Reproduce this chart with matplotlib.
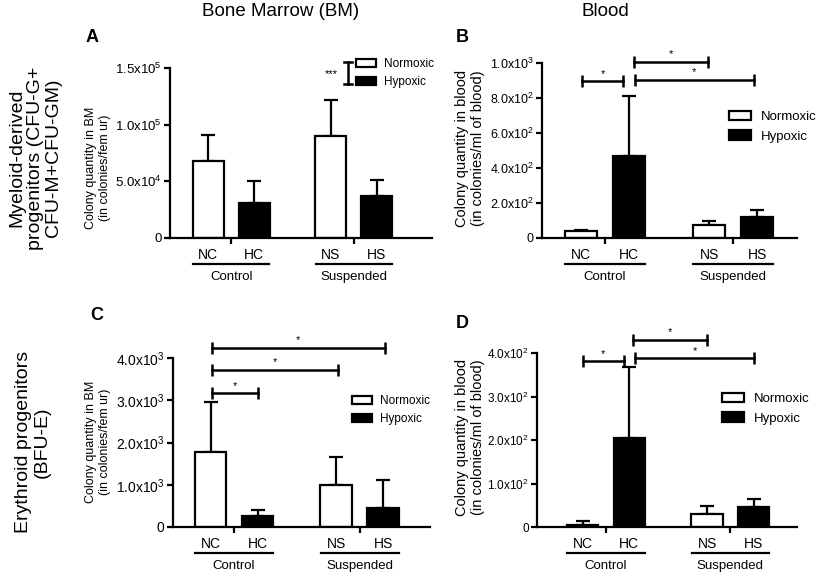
import numpy as np
import matplotlib; matplotlib.use("Agg"); import matplotlib.pyplot as plt
from matplotlib.patches import Patch

plt.rcParams["font.family"] = ["Liberation Sans", "DejaVu Sans"]
plt.rcParams["mathtext.fontset"] = "custom"
plt.rcParams["mathtext.rm"] = "Liberation Sans"
plt.rcParams["mathtext.default"] = "regular"

W, H = 816, 576
LW = 1.6
groups = ["NC", "HC", "NS", "HS"]
xpos = [0, 1, 2.67, 3.67]
fill = ["white", "black", "white", "black"]

# values (mean, upper SD)
bm_myeloid = [68000, 31000, 90000, 37500]
bm_myeloid_err = [23000, 19000, 32000, 14000]
blood_myeloid = [42, 467, 72, 118]
blood_myeloid_err = [6, 346, 27, 44]
bm_erythroid = [1780, 260, 990, 460]
bm_erythroid_err = [1170, 136, 673, 650]
blood_erythroid = [5.4, 205, 31, 45]
blood_erythroid_err = [8.6, 162, 17, 20]

ticks_a = [0, 5e4, 1e5, 1.5e5]
labels_a = ["0", "5.0x10$^4$", "1.0x10$^5$", "1.5x10$^5$"]
ticks_b = [0, 200, 400, 600, 800, 1000]
labels_b = ["0", "2.0x10$^2$", "4.0x10$^2$", "6.0x10$^2$", "8.0x10$^2$", "1.0x10$^3$"]
ticks_c = [0, 1000, 2000, 3000, 4000]
labels_c = ["0", "1.0x10$^3$", "2.0x10$^3$", "3.0x10$^3$", "4.0x10$^3$"]
ticks_d = [0, 100, 200, 300, 400]
labels_d = ["0", "1.0x10$^2$", "2.0x10$^2$", "3.0x10$^2$", "4.0x10$^2$"]

# significance brackets (x1, x2, y)
sig_b = [(0.02, 0.88, 895), (1.1, 2.65, 1006), (1.12, 3.6, 905)]
sig_c = [(0.03, 1.01, 3168), (0.03, 2.71, 3723), (0.03, 3.71, 4238)]
sig_d = [(0.0, 0.89, 381), (1.09, 2.66, 431), (1.13, 3.67, 388)]


def rect(l, t, r, b):
    return [l / W, 1 - b / H, (r - l) / W, (b - t) / H]


fig = plt.figure(figsize=(W / 100, H / 100), dpi=100)


def panel(box, vals, err, ymax, ticks, tlabels, tfs, xlim, sig, leg_xy, leg_fs):
    ax = fig.add_axes(rect(*box))
    hpx = box[3] - box[1]
    ax.bar(xpos, vals, width=0.67, color=fill, edgecolor="black", linewidth=LW, zorder=2)
    ax.errorbar(xpos, vals, yerr=[np.zeros(4), err], fmt="none", ecolor="black",
                elinewidth=LW, capsize=5, capthick=LW, zorder=1)
    ax.set_ylim(0, ymax); ax.set_xlim(*xlim)
    ax.set_yticks(ticks); ax.set_yticklabels(tlabels, fontsize=tfs)
    ax.set_xticks(xpos); ax.set_xticklabels(groups, fontsize=10)
    ax.set_xticks([0.5, 3.17], minor=True)
    ax.tick_params(axis="x", which="major", length=0, pad=7)
    ax.tick_params(axis="x", which="minor", length=4, width=LW)
    ax.tick_params(axis="y", length=4, width=LW, pad=2)
    for s in ["top", "right"]:
        ax.spines[s].set_visible(False)
    for s in ["left", "bottom"]:
        ax.spines[s].set_linewidth(LW)
    tr = ax.get_xaxis_transform()
    for (a, b), name in zip([(0, 1), (2, 3)], ["Control", "Suspended"]):
        ax.plot([xpos[a] - 0.33, xpos[b] + 0.33], [-26 / hpx] * 2, color="black",
                lw=LW, transform=tr, clip_on=False)
        ax.text((xpos[a] + xpos[b]) / 2, -39 / hpx, name, transform=tr,
                ha="center", va="center", fontsize=9.5)
    for x1, x2, y in sig:
        ax.plot([x1, x2], [y, y], color="black", lw=1.8, clip_on=False)
        ax.plot([x1, x2], [y, y], ls="none", marker="|", ms=8, mew=1.8,
                color="black", clip_on=False)
        ax.text((x1 + x2) / 2, y + ymax * 0.015, "*", ha="center", va="bottom",
                fontsize=8)
    handles = [Patch(facecolor="white", edgecolor="black", lw=LW, label="Normoxic"),
               Patch(facecolor="black", edgecolor="black", lw=LW, label="Hypoxic")]
    fig.legend(handles=handles, loc="upper left", bbox_to_anchor=(leg_xy[0] / W, 1 - leg_xy[1] / H),
               frameon=False, fontsize=leg_fs, borderpad=0, borderaxespad=0,
               handlelength=1.7, handleheight=0.7, handletextpad=0.7, labelspacing=0.55)
    return ax


panel((170, 68, 432, 238), bm_myeloid, bm_myeloid_err, 1.5e5, ticks_a, labels_a, 9.5,
      (-0.83, 4.87), [], (356, 58), 8.5)
panel((542, 63, 797, 238), blood_myeloid, blood_myeloid_err, 1000, ticks_b, labels_b, 9,
      (-0.81, 4.5), sig_b, (729, 111), 9.5)
panel((173, 358, 430, 527), bm_erythroid, bm_erythroid_err, 4000, ticks_c, labels_c, 10,
      (-0.8, 4.67), sig_c, (352, 395), 8.5)
panel((537, 353, 797, 527), blood_erythroid, blood_erythroid_err, 400, ticks_d, labels_d, 8.5,
      (-0.98, 4.6), sig_d, (722, 393), 9.5)

# *** bracket next to legend in panel A
fig.add_artist(plt.Line2D([348 / W] * 2, [1 - 62 / H, 1 - 84 / H], color="black", lw=1.8))
fig.add_artist(plt.Line2D([344 / W, 352 / W], [1 - 62 / H] * 2, color="black", lw=1.8))
fig.add_artist(plt.Line2D([344 / W, 352 / W], [1 - 84 / H] * 2, color="black", lw=1.8))
fig.text(331 / W, 1 - 74 / H, "***", ha="center", va="center", fontsize=8)

# titles, row labels, y labels, panel letters
fig.text(281 / W, 1 - 12 / H, "Bone Marrow (BM)", ha="center", va="center", fontsize=13.5)
fig.text(605 / W, 1 - 12 / H, "Blood", ha="center", va="center", fontsize=13.5)
fig.text(35 / W, 1 - 158 / H, "Myeloid-derived\nprogenitors (CFU-G+\nCFU-M+CFU-GM)",
         rotation=90, ha="center", va="center", fontsize=14, linespacing=1.1)
fig.text(33 / W, 1 - 442 / H, "Erythroid progenitors\n(BFU-E)",
         rotation=90, ha="center", va="center", fontsize=14, linespacing=1.1)
for x, y, s, fs in [(98, 168, "Colony quantity in BM\n(in colonies/fem ur)", 9),
                    (98, 442, "Colony quantity in BM\n(in colonies/fem ur)", 9),
                    (470, 148, "Colony quantity in blood\n(in colonies/ml of blood)", 10.5),
                    (470, 437, "Colony quantity in blood\n(in colonies/ml of blood)", 10.5)]:
    fig.text(x / W, 1 - y / H, s, rotation=90, ha="center", va="center",
             fontsize=fs, linespacing=1.15)
for x, y, s in [(92, 38, "A"), (462, 38, "B"), (97, 316, "C"), (462, 323, "D")]:
    fig.text(x / W, 1 - y / H, s, ha="center", va="center", fontsize=13, fontweight="bold")

fig.savefig("out.png", dpi=100)
